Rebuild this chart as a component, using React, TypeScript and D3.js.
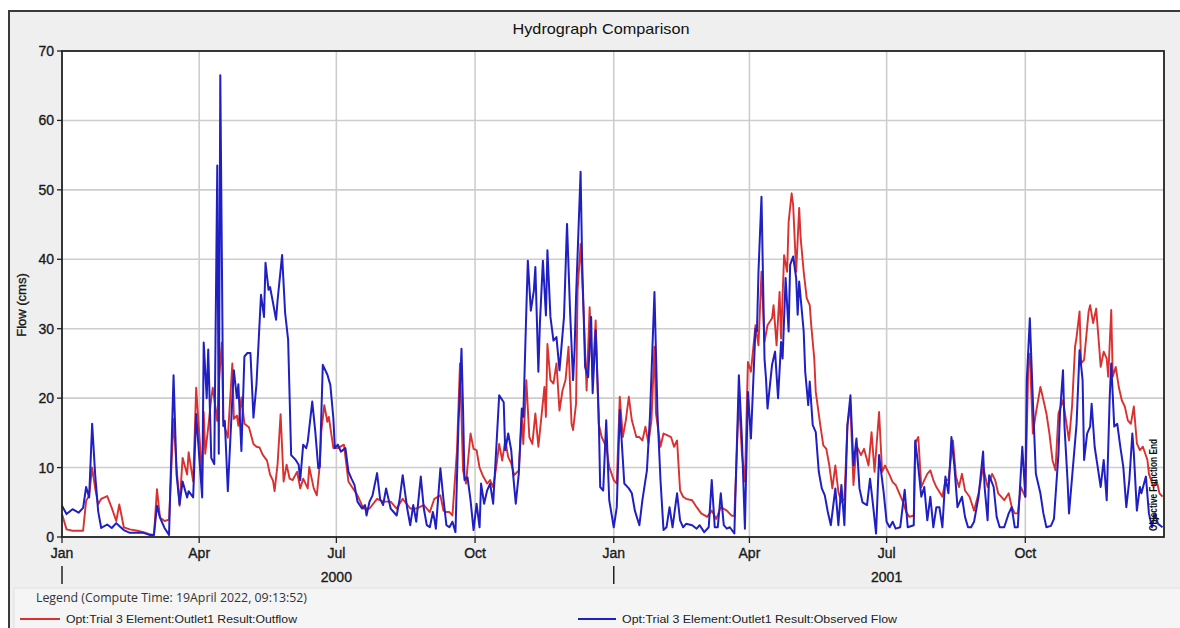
import React from "react";
import * as d3 from "d3";

const chartTitle = "Hydrograph Comparison";
const yAxisLabel = "Flow (cms)";
const legendTitle = "Legend (Compute Time: 19April 2022, 09:13:52)";
const outflowName = "Opt:Trial 3 Element:Outlet1 Result:Outflow";
const observedName = "Opt:Trial 3 Element:Outlet1 Result:Observed Flow";
const endMarker = "Objective Function End";
const yTicks = [0, 10, 20, 30, 40, 50, 60, 70];
const startDay = Date.UTC(2000, 0, 1);
const endDay = Date.UTC(2002, 0, 1);

// [day offset from 1 Jan 2000, flow in cms]
const outflow: [number, number][] = [
  [0,3.3],[3,1.1],[7,0.9],[14,0.9],[16,5.2],[18,6],[20,10],[22,7],[24,4.7],[26,5.5],[30,5.9],[33,4.2],[36,2.3],[38,4.7],[41,1.4],[45,1.1],[50,0.9],[54,0.7],[58,0.4],[61,0.3],[63,6.9],[65,2.8],[68,2.3],[71,2.5],[74,17],[76,10],[78,4.5],[80,11.4],[83,9],[84,12.2],[87,8],[89,21.5],[93,8.6],[94,18],[95,12],[97,15.8],[99,20],[100,21.5],[103,16.7],[104,22],[106,28],[107,17],[108,15.8],[110,14.3],[113,25],[114,17],[116,17.5],[117,16],[119,20.1],[121,16.3],[124,15.8],[127,13.4],[129,13],[131,12.9],[133,11.9],[136,11],[138,9],[140,8.1],[141,6.6],[143,10.5],[145,17.7],[147,8],[149,10.4],[151,8.4],[153,8.2],[156,9.4],[158,7],[160,8.4],[163,7],[164,10.1],[167,7],[169,6],[171,10.4],[172,15.2],[174,19],[176,16.6],[177,17.3],[180,12.8],[183,12.8],[187,13.3],[190,8],[193,7],[196,6],[200,4.1],[204,4.1],[209,5.5],[213,5.1],[218,5.1],[222,4.1],[226,5.5],[231,4.1],[235,4.1],[240,4.6],[244,3.6],[247,5.5],[251,6],[253,3.8],[255,3.6],[257,3.6],[259,3.1],[262,12.5],[264,25],[266,9.6],[268,7.7],[271,14.9],[273,12.7],[275,12.5],[277,10],[279,8.9],[282,7.7],[284,8.2],[286,7.2],[288,10],[290,13.4],[292,11],[294,13.9],[296,11.5],[298,10.6],[300,8.9],[303,9.6],[305,17.3],[306,13.4],[308,22.6],[310,14.4],[312,13.4],[314,17.8],[316,13],[318,17.3],[320,21.6],[321,17.3],[322,27.8],[324,22.6],[326,22.1],[328,25],[330,18.2],[332,21.1],[334,22.6],[336,27.4],[338,16.3],[339,15.4],[341,19.2],[342,35.5],[344,42.2],[346,32.6],[348,21.1],[350,33.1],[352,22.6],[354,31.2],[356,16.3],[358,14.4],[361,13],[363,10.1],[366,8.2],[368,7.7],[370,20.2],[372,14.4],[374,16.8],[376,20.2],[378,16.8],[381,14.4],[383,14.4],[385,13.9],[387,15.9],[389,13.5],[391,16.8],[393,27.4],[394,17.8],[397,13],[399,14.9],[401,14.7],[404,14.4],[406,13],[408,13.9],[410,6.7],[412,5.8],[414,5.5],[418,5.3],[421,4.3],[424,3.4],[428,2.9],[431,3.8],[434,2.6],[437,4.3],[441,3.8],[444,3.1],[446,3],[449,20],[451,12],[453,8],[455,25.2],[457,23.8],[460,30.5],[462,27.6],[464,38.2],[466,28.1],[468,30.5],[471,31.5],[472,33.4],[474,27.6],[476,35.3],[477,28.6],[479,40.6],[481,38.2],[482,45.4],[484,49.5],[485,47.8],[487,38.2],[489,47.4],[490,43],[492,38.2],[494,34.4],[496,33.4],[497,30.5],[499,25.7],[500,20.9],[503,16.1],[505,13.2],[507,12.7],[509,10.3],[511,7],[513,10.3],[515,6.5],[517,5],[519,5.5],[521,16.1],[523,19],[525,7.5],[527,13.2],[530,11.8],[532,12.7],[535,10.3],[537,15.1],[539,9.4],[542,18],[544,9.4],[546,10.3],[549,8.9],[551,7.9],[553,7.5],[556,6],[558,5],[560,3.6],[562,2.9],[565,3.1],[566,13.5],[568,14.4],[570,7.2],[572,8.2],[574,9.1],[576,9.6],[578,8.2],[580,7.2],[584,5.8],[586,8.2],[588,8.2],[591,13.9],[593,8.7],[595,7.2],[597,9.1],[599,6.7],[602,5.8],[605,3.8],[608,6.3],[611,10.1],[614,7.2],[617,9.1],[619,8.2],[621,6.3],[623,5.8],[625,5.3],[628,6.3],[630,4.3],[632,3.4],[634,3.4],[636,7.2],[639,5.8],[641,25],[642,26.4],[644,14.9],[646,17.8],[649,21.6],[650,20.7],[653,17.8],[655,14.9],[657,11.1],[659,9.6],[661,17.8],[664,19.7],[666,16.8],[668,13.9],[670,18.8],[672,27.4],[673,28.8],[675,32.5],[676,25],[678,25.5],[681,32.5],[682,33.4],[684,30.8],[686,32.9],[688,27.4],[689,24.5],[691,26.7],[693,25.7],[694,23.1],[696,32.7],[697,23.1],[699,24.5],[701,21.6],[703,19.7],[705,18.8],[707,16.8],[709,16.3],[711,18.8],[713,13.5],[715,12.5],[717,13],[720,11.1],[721,9.1],[724,7.2],[726,8.2],[728,6.3],[730,5.8]
];

const observed: [number, number][] = [
  [0,4.5],[3,3.3],[7,4],[11,3.5],[14,4.2],[16,7.2],[18,5.7],[20,16.3],[22,9],[24,3.7],[26,1.3],[30,1.8],[33,1.3],[36,2],[38,1.6],[41,1],[45,0.6],[50,0.6],[54,0.6],[58,0.3],[61,0.3],[63,4.5],[65,2.8],[68,1.3],[71,0.3],[74,23.3],[76,9],[78,4.7],[80,8],[83,5.7],[84,6.6],[87,5.7],[89,17.7],[93,5.7],[94,28],[96,20],[97,27],[99,11.4],[101,10.5],[103,53.5],[104,12],[105,66.5],[107,16],[108,16.7],[110,6.6],[113,20],[114,24],[116,20],[117,22],[119,12.4],[121,26],[123,26.5],[125,26.5],[127,17.2],[129,22],[132,34.9],[134,31.7],[135,39.5],[137,35.6],[138,36],[140,33.7],[142,31.3],[143,34.1],[146,40.6],[148,32.3],[150,28.4],[152,11.8],[155,11.1],[157,10.4],[158,8.2],[160,13.3],[162,12.8],[163,13.7],[166,19.5],[168,15.2],[170,9.9],[171,10.1],[173,24.8],[176,23.4],[178,21.9],[180,17.1],[181,12.8],[183,13.3],[185,12.3],[188,12.8],[190,9.4],[192,8.4],[194,7.5],[196,5.1],[199,4.1],[201,4.6],[202,3.1],[204,5.1],[206,6],[209,9.2],[211,5.5],[213,4.6],[215,7],[218,4.1],[220,3.6],[222,3.1],[224,5.5],[226,8.9],[229,4.1],[231,1.7],[233,4.6],[235,2.2],[238,8.7],[240,4.1],[242,1.7],[244,1.4],[246,3.6],[247,2.6],[248,1.2],[251,9.9],[253,5.5],[255,1.7],[257,1.4],[259,2.2],[261,0.7],[263,16.3],[265,27.1],[266,18.7],[267,8.2],[269,8.6],[271,5.3],[273,1],[275,4.8],[277,1.4],[278,7.7],[280,4.8],[282,6.7],[284,7.7],[286,4.8],[288,12.5],[290,20.4],[293,19.4],[294,12.5],[296,14.9],[298,12.5],[299,9.6],[301,4.8],[303,9.1],[305,18.5],[306,17.3],[308,32.6],[309,39.8],[311,32.6],[313,35.5],[314,38.9],[316,23.8],[317,30.7],[319,39.8],[321,31.9],[322,41.3],[324,31.7],[326,28.3],[328,28.8],[330,24],[333,31.7],[335,45.1],[337,32.6],[339,22.6],[340,26.9],[341,34.6],[344,52.6],[345,40],[347,24.5],[349,23],[351,31.7],[352,20.7],[354,29.8],[356,17.8],[357,7.2],[359,6.7],[361,16.8],[363,5.3],[366,1.4],[368,4.3],[370,18.3],[373,7.7],[376,7],[378,6.3],[380,3.8],[383,1.7],[385,5.3],[388,9.6],[390,17.3],[393,35.3],[395,17.8],[397,8.2],[399,1],[401,1.4],[403,4.3],[405,1.4],[408,6.3],[410,2.4],[412,1.4],[414,1.9],[418,1.7],[421,1.2],[423,1.7],[426,0.7],[429,1.4],[431,8.2],[433,1.4],[435,1.4],[437,6.3],[439,1.7],[441,1.2],[443,1.4],[446,0.5],[449,23.3],[451,14.2],[453,1.2],[455,20.9],[457,14.2],[460,30],[461,29.6],[462,38.2],[464,49],[466,25.7],[467,22.8],[468,18.5],[471,24.8],[473,26.7],[475,20],[477,28.1],[478,25.7],[480,37.3],[482,29.6],[483,39.2],[485,40.4],[487,37.3],[488,32],[489,36.8],[492,29.6],[493,23.8],[495,19],[496,22.4],[498,16.1],[500,15.1],[502,9.4],[504,7],[506,6],[508,3.6],[510,1.7],[513,7],[515,1.7],[517,7.5],[519,1.7],[521,16.1],[523,20.4],[525,10.3],[527,14.2],[529,7],[531,5],[534,4.6],[536,8.4],[538,4.6],[540,0.5],[542,11.8],[545,6.5],[547,2.2],[549,1.4],[551,2.2],[553,1.2],[556,1.4],[559,6.8],[561,1.4],[565,1.7],[566,13.9],[568,10.1],[570,5.8],[572,7.2],[574,2.4],[576,5.8],[578,1.4],[580,4.3],[582,4.3],[584,1.4],[586,8.7],[588,6.3],[590,14.4],[592,10.1],[594,4.3],[597,5.8],[599,2.9],[601,1.4],[603,1.4],[605,2.2],[608,5.8],[611,12.3],[612,7.2],[614,2.4],[615,8.9],[618,7.2],[620,2.9],[622,1.4],[625,1.4],[628,3.4],[630,4.3],[632,1.4],[634,1.4],[637,13],[639,5.8],[640,22.6],[642,31.5],[644,19.7],[646,9.1],[649,6.3],[651,3.4],[653,1.4],[656,1.6],[658,2.6],[661,12],[662,17.8],[664,24],[665,15.9],[667,8.2],[668,3.4],[671,11.1],[673,16.3],[675,26.9],[677,22.6],[678,11.1],[680,14.9],[682,15.9],[683,19.2],[685,13],[687,10.1],[689,7.2],[691,11.1],[693,5.3],[695,20.2],[696,25],[698,15.9],[700,16.3],[702,13],[704,10.1],[706,4.3],[708,8.2],[710,14.9],[711,12],[713,3.8],[715,7.2],[716,6.3],[719,8.7],[721,3.4],[723,1.4],[725,3.4],[727,1.9],[730,1.4]
];

const RED = "#db3030";
const BLUE = "#1f1fc4";
const FONT = "'Liberation Sans', Arial, sans-serif";

export default function App() {
  const W = 1180;
  const H = 628;
  const L = 62, R = 1164, T = 51, B = 537;

  const x = d3.scaleUtc().domain([new Date(startDay), new Date(endDay)]).range([L, R]);
  const y = d3.scaleLinear().domain([0, 70]).range([B, T]);
  const toDate = (d: number) => new Date(startDay + d * 86400000);

  const line = d3
    .line<[number, number]>()
    .x((d) => x(toDate(d[0])))
    .y((d) => y(d[1]));

  const sortFn = (a: [number, number], b: [number, number]) => a[0] - b[0];
  const outPath = line([...outflow].sort(sortFn)) || "";
  const obsPath = line([...observed].sort(sortFn)) || "";

  const quarterTicks = x
    .ticks(d3.utcMonth.every(3) as any)
    .filter((t) => +t < endDay);
  const fmtMonth = d3.utcFormat("%b");
  const yearTicks = quarterTicks.filter((t) => t.getUTCMonth() === 6);
  const janTicks = quarterTicks.filter((t) => t.getUTCMonth() === 0);

  const labelStyle = { stroke: "#1a1a1a", strokeWidth: 0.35 } as const;

  return (
    <svg
      width={W}
      height={H}
      style={{ position: "absolute", left: 0, top: 0, background: "#ffffff" }}
      fontFamily={FONT}
    >
      {/* outer frame */}
      <rect x={9} y={11} width={W} height={H} fill="#efefef" stroke="#3a3a3a" strokeWidth={2} />
      {/* legend panel */}
      <rect x={14} y={588} width={W} height={50} fill="#f5f5f5" stroke="#e2e2e2" strokeWidth={1} />

      <text x={601} y={34} textAnchor="middle" fontSize={15} fill="#111" textLength={177} lengthAdjust="spacingAndGlyphs">
        {chartTitle}
      </text>

      {/* plot background */}
      <rect x={L} y={T} width={R - L} height={B - T} fill="#ffffff" />

      {/* gridlines */}
      {yTicks
        .filter((v) => v > 0 && v < 70)
        .map((v) => (
          <line key={"gy" + v} x1={L} x2={R} y1={y(v)} y2={y(v)} stroke="#cdcdcd" strokeWidth={1.6} />
        ))}
      {quarterTicks
        .filter((t) => +t > startDay)
        .map((t) => (
          <line key={"gx" + +t} x1={x(t)} x2={x(t)} y1={T} y2={B} stroke="#cdcdcd" strokeWidth={1.6} />
        ))}

      {/* series */}
      <path d={outPath} fill="none" stroke={RED} strokeWidth={1.9} strokeLinejoin="round" />
      <path d={obsPath} fill="none" stroke={BLUE} strokeWidth={2} strokeLinejoin="round" />

      {/* end marker text */}
      <text
        transform={`translate(1157,531) rotate(-90)`}
        fontSize={10}
        fontWeight="bold"
        fill="#111"
        textLength={92}
        lengthAdjust="spacingAndGlyphs"
      >
        {endMarker}
      </text>

      {/* plot border */}
      <rect x={L} y={T} width={R - L} height={B - T} fill="none" stroke="#222" strokeWidth={1.8} />

      {/* y axis ticks */}
      {yTicks.map((v) => (
        <g key={"yt" + v}>
          <line x1={L - 5} x2={L} y1={y(v)} y2={y(v)} stroke="#222" strokeWidth={1.3} />
          <text x={L - 8} y={y(v) + 5} textAnchor="end" fontSize={14} fill="#1a1a1a" style={labelStyle}>
            {v}
          </text>
        </g>
      ))}
      <text transform={`translate(26,305) rotate(-90)`} textAnchor="middle" fontSize={13} fill="#1a1a1a" style={labelStyle}>
        {yAxisLabel}
      </text>

      {/* x axis ticks */}
      {quarterTicks.map((t) => (
        <g key={"xt" + +t}>
          <line x1={x(t)} x2={x(t)} y1={B} y2={B + 6} stroke="#222" strokeWidth={1.3} />
          <text x={x(t)} y={558} textAnchor="middle" fontSize={14} fill="#1a1a1a" style={labelStyle}>
            {fmtMonth(t)}
          </text>
        </g>
      ))}
      {janTicks.map((t) => (
        <line key={"jt" + +t} x1={x(t)} x2={x(t)} y1={566} y2={584} stroke="#222" strokeWidth={1.5} />
      ))}
      {yearTicks.map((t) => (
        <text key={"yr" + +t} x={x(t)} y={582} textAnchor="middle" fontSize={14} fill="#1a1a1a" style={labelStyle}>
          {t.getUTCFullYear()}
        </text>
      ))}

      {/* legend */}
      <text x={36} y={602} fontSize={12} fill="#333" fontFamily="'Open Sans', sans-serif" textLength={271} lengthAdjust="spacingAndGlyphs">
        {legendTitle}
      </text>
      <line x1={20} x2={60} y1={619} y2={619} stroke={RED} strokeWidth={1.9} />
      <text x={66} y={623} fontSize={11} fill="#222" textLength={231} lengthAdjust="spacingAndGlyphs">
        {outflowName}
      </text>
      <line x1={578} x2={616} y1={619} y2={619} stroke={BLUE} strokeWidth={1.9} />
      <text x={622} y={623} fontSize={11} fill="#222" textLength={275} lengthAdjust="spacingAndGlyphs">
        {observedName}
      </text>
    </svg>
  );
}
